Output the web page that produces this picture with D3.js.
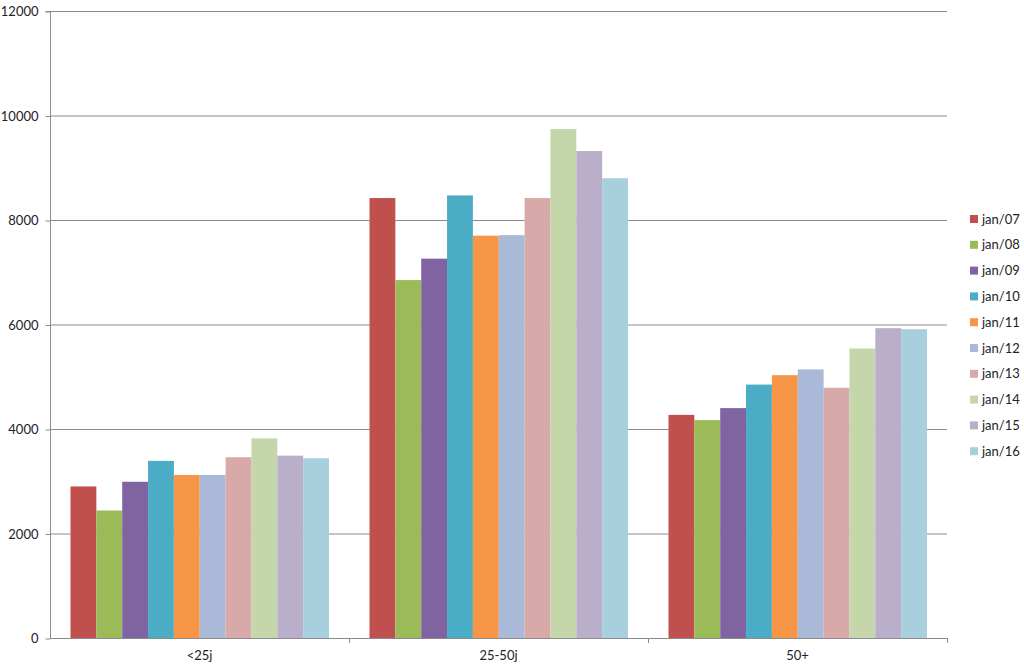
<!DOCTYPE html>
<html><head><meta charset="utf-8">
<script src="https://cdn.jsdelivr.net/npm/d3@7"></script>
<style>body{margin:0;background:#fff}svg{display:block}text{font-family:Lato,"Open Sans",sans-serif;fill:#222}</style>
</head><body><svg id="c" width="1024" height="669"></svg>
<script>
const categories = ["<25j", "25-50j", "50+"];
const seriesNames = ["jan/07","jan/08","jan/09","jan/10","jan/11","jan/12","jan/13","jan/14","jan/15","jan/16"];
const colors = ["#C0504D","#9BBB59","#8064A2","#4BACC6","#F79646","#A9B9D7","#D8A9A9","#C5D6AA","#B9AFCA","#A8CFDE"];
const under25 = [2900, 2440, 2990, 3390, 3120, 3120, 3460, 3820, 3490, 3440];
const mid25_50 = [8420, 6850, 7260, 8470, 7700, 7710, 8420, 9740, 9320, 8800];
const over50 = [4270, 4170, 4400, 4850, 5030, 5140, 4790, 5540, 5930, 5910];
const yTicks = [0, 2000, 4000, 6000, 8000, 10000, 12000];
const groups = [under25, mid25_50, over50];

const svg = d3.select("#c");
const L = 50, R = 947, T = 11, B = 638;
const x0 = d3.scaleBand().domain(categories).range([L, R]).padding(0);
const x1 = d3.scaleBand().domain(seriesNames).range([20.5, x0.bandwidth() - 20]).padding(0);
const y = d3.scaleLinear().domain([0, 12000]).range([B, T]);

// gridlines
svg.append("g").selectAll("line").data(yTicks.filter(d => d > 0)).join("line")
  .attr("x1", L).attr("x2", R).attr("y1", d => y(d) + 0.5).attr("y2", d => y(d) + 0.5)
  .attr("stroke", "#8c8c8c").attr("stroke-width", 1);

// bars
groups.forEach((vals, gi) => {
  svg.append("g").selectAll("rect").data(vals).join("rect")
    .attr("x", (d, i) => x0(categories[gi]) + x1(seriesNames[i]))
    .attr("width", x1.bandwidth())
    .attr("y", d => y(d))
    .attr("height", d => B - y(d))
    .attr("fill", (d, i) => colors[i]);
});

// y axis
const yAxis = d3.axisLeft(y).tickValues(yTicks).tickSize(5).tickPadding(7).tickFormat(d3.format("d"));
const ya = svg.append("g").attr("transform", `translate(${L + 0.5},0.5)`).call(yAxis);
ya.select(".domain").attr("stroke", "#8c8c8c").attr("d", `M-5,${T}H0V${B}`);
ya.selectAll(".tick line").attr("stroke", "#8c8c8c");
ya.selectAll("text").attr("font-size", 13).attr("font-family", "Lato, sans-serif").attr("fill", "#222");

// x axis
const xAxis = d3.axisBottom(x0).tickSize(0).tickPadding(12);
const xa = svg.append("g").attr("transform", `translate(0,${B + 0.5})`).call(xAxis);
xa.select(".domain").attr("stroke", "#8c8c8c").attr("d", `M${L},0H${R}`);
xa.selectAll("text").attr("font-size", 13).attr("font-family", "Lato, sans-serif").attr("fill", "#222");
// category separator ticks
svg.append("g").selectAll("line").data(categories.slice(1).concat(["end"])).join("line")
  .attr("x1", (d, i) => Math.round(i < 2 ? x0(d) : R) + 0.5).attr("x2", (d, i) => Math.round(i < 2 ? x0(d) : R) + 0.5)
  .attr("y1", B).attr("y2", B + 5).attr("stroke", "#8c8c8c");

// legend
const lg = svg.append("g").attr("transform", "translate(970,219)");
const li = lg.selectAll("g").data(seriesNames).join("g").attr("transform", (d, i) => `translate(0,${i * 25.8})`);
li.append("rect").attr("x", 0).attr("y", -4).attr("width", 8).attr("height", 8).attr("fill", (d, i) => colors[i]);
li.append("text").attr("x", 12).attr("y", 0).attr("dy", "0.35em").attr("font-size", 13).text(d => d);
</script></body></html>
